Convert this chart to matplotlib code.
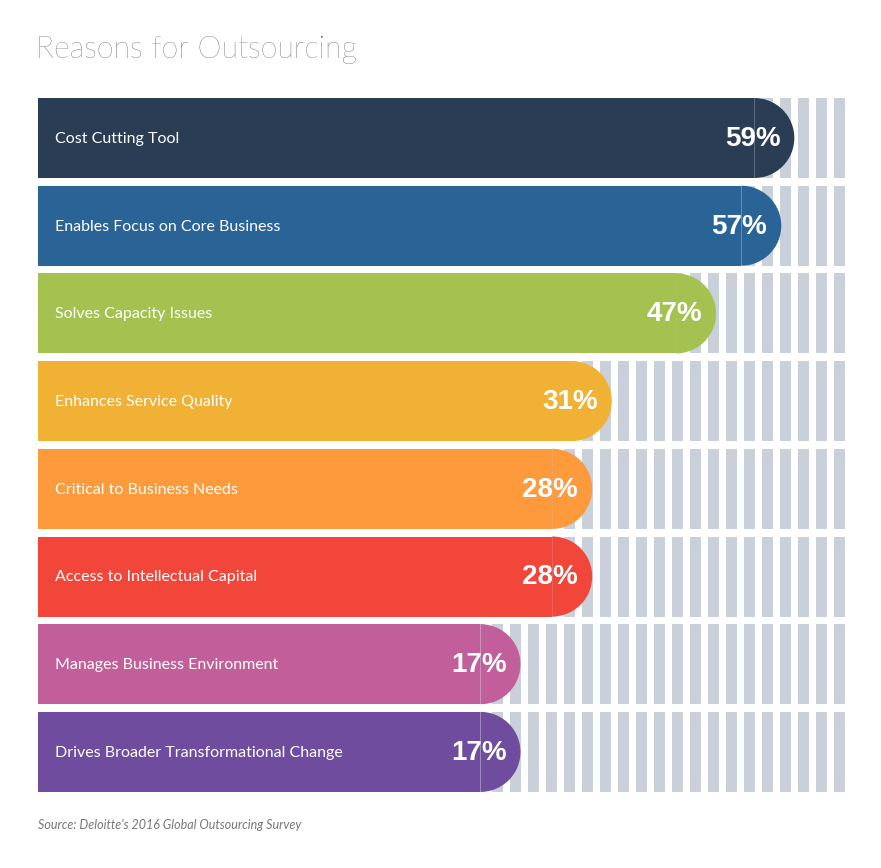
import matplotlib.pyplot as plt
from matplotlib.patches import Rectangle, Wedge

labels = ['Cost Cutting Tool', 'Enables Focus on Core Business', 'Solves Capacity Issues',
          'Enhances Service Quality', 'Critical to Business Needs', 'Access to Intellectual Capital',
          'Manages Business Environment', 'Drives Broader Transformational Change']
values = [59, 57, 47, 31, 28, 28, 17, 17]
colors = ['#2b3d55', '#2a6496', '#a5c250', '#f0b134', '#fd9a3c', '#f2463a', '#c25f9b', '#6f4c9e']

plt.rcParams['font.family'] = ['Lato', 'DejaVu Sans']

fig = plt.figure(figsize=(8.81, 8.68), dpi=100)
ax = fig.add_axes([0, 0, 1, 1])
ax.set_xlim(0, 881)
ax.set_ylim(868, 0)
ax.axis('off')

x0, x_right = 38, 845
top0, pitch, h = 98, 87.7, 80
r = h / 2


def val_to_px(v):
    # bars start at x0; length grows with the value
    return x0 + 6.52 * (v + 57)


for i, (lab, v, c) in enumerate(zip(labels, values, colors)):
    top = top0 + i * pitch
    yc = top + h / 2
    # striped background
    sx = x_right - 11
    while sx > x0:
        ax.add_patch(Rectangle((sx, top), 11, h, color='#c9d0da', lw=0))
        sx -= 18
    end = val_to_px(v)
    ax.add_patch(Rectangle((x0, top), end - r - x0, h, color=c, lw=0))
    ax.add_patch(Wedge((end - r, yc), r, -90, 90, color=c, lw=0))
    ax.text(55, yc + 1, lab, color='white', fontsize=11.5, va='center', ha='left')
    ax.text(end - 14, yc + 1, f'{v}%', color='white', fontsize=20, fontweight='bold',
            va='center', ha='right', family=['Liberation Sans', 'DejaVu Sans'])

ax.text(36, 50, 'Reasons for Outsourcing', fontsize=22, color='#444444', va='center',
        ha='left', fontweight='light')
ax.text(38, 825, "Source: Deloitte's 2016 Global Outsourcing Survey", fontsize=9,
        color='#777777', style='italic', va='center', ha='left')

fig.savefig('out.png', dpi=100, facecolor='white')
